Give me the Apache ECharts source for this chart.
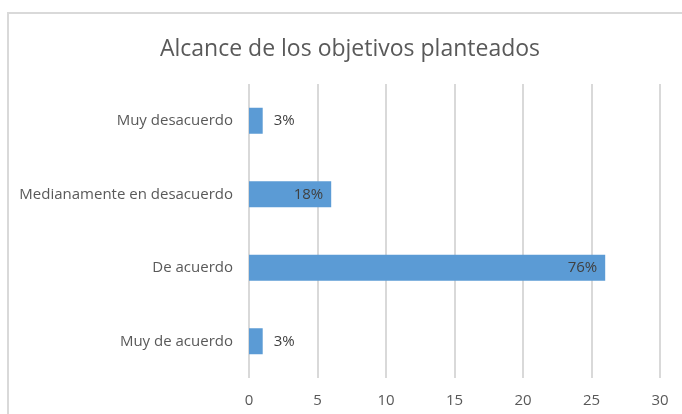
<!DOCTYPE html>
<html>
<head>
<meta charset="utf-8">
<script src="https://cdn.jsdelivr.net/npm/echarts@6/dist/echarts.min.js"></script>
<style>
html,body{margin:0;padding:0;background:#fff;}
#c{width:682px;height:414px;}
</style>
</head>
<body>
<div id="c"></div>
<script>
const title = 'Alcance de los objetivos planteados';
const categories = ['Muy de acuerdo', 'De acuerdo', 'Medianamente en desacuerdo', 'Muy desacuerdo'];
const values = [1, 26, 6, 1];
const percentLabels = ['3%', '76%', '18%', '3%'];
const xTicks = { min: 0, max: 30, interval: 5 };

const FONT = '"Open Sans", "Noto Sans", sans-serif';
const chart = echarts.init(document.getElementById('c'), null, { renderer: 'canvas' });

const seriesData = values.map((v, i) => ({
  value: v,
  label: {
    position: v < 3 ? 'right' : 'insideRight',
    distance: v < 3 ? 11 : 8,
    formatter: percentLabels[i]
  }
}));

chart.setOption({
  animation: false,
  backgroundColor: '#ffffff',
  title: {
    text: title,
    left: 345,
    textAlign: 'center',
    top: 29,
    textStyle: { color: '#595959', fontSize: 23, fontWeight: 'normal', fontFamily: FONT, lineHeight: 30 }
  },
  graphic: [{
    type: 'rect',
    shape: { x: 8, y: 13, width: 720, height: 460 },
    style: { fill: 'none', stroke: '#d9d9d9', lineWidth: 2 },
    silent: true, z: -1
  }],
  grid: { left: 249, right: 22, top: 84, bottom: 36, containLabel: false },
  xAxis: {
    type: 'value',
    min: xTicks.min, max: xTicks.max, interval: xTicks.interval,
    axisLine: { show: false },
    axisTick: { show: false },
    splitLine: { show: true, lineStyle: { color: '#d9d9d9', width: 2 } },
    axisLabel: { color: '#595959', fontSize: 15, fontFamily: FONT, margin: 15 }
  },
  yAxis: {
    type: 'category',
    data: categories,
    axisLine: { show: false },
    axisTick: { show: false },
    axisLabel: { color: '#595959', fontSize: 15, fontFamily: FONT, margin: 16 }
  },
  series: [{
    type: 'bar',
    data: seriesData,
    barWidth: 26,
    itemStyle: { color: '#5b9bd5' },
    label: { show: true, color: '#404040', fontSize: 15, fontFamily: FONT }
  }]
});
</script>
</body>
</html>
